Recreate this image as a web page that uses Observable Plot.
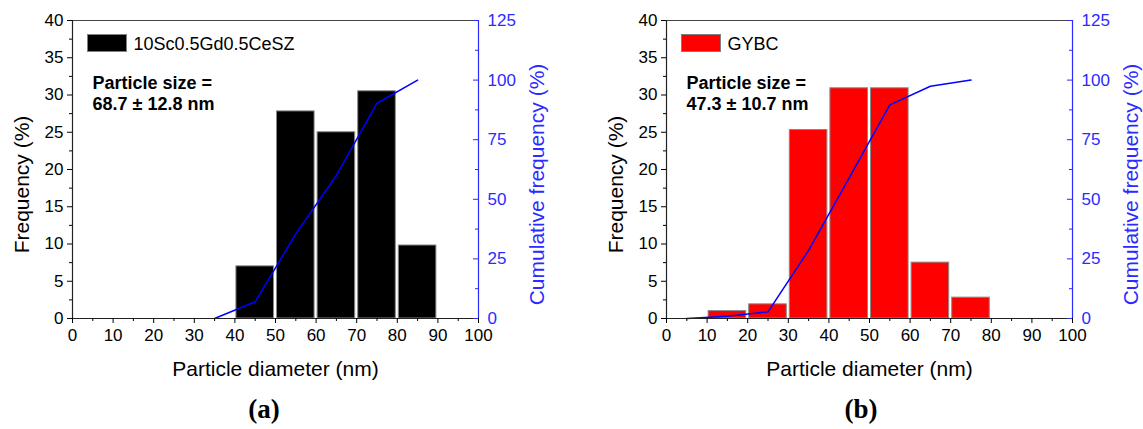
<!DOCTYPE html>
<html>
<head>
<meta charset="utf-8">
<script src="https://cdn.jsdelivr.net/npm/d3@7"></script>
<script src="https://cdn.jsdelivr.net/npm/@observablehq/plot@0.6"></script>
<style>
  html, body { margin: 0; padding: 0; background: #fff; }
  #wrap { position: relative; width: 1143px; height: 429px; overflow: hidden; background: #fff; }
  .panel { position: absolute; top: 0; }
  .swatch { position: absolute; box-sizing: border-box; border: 1px solid #808080; }
  .cap { position: absolute; width: 80px; margin-left: -40px; text-align: center;
         font-family: "Liberation Serif", "Times New Roman", serif; font-weight: bold; font-size: 27px; }
</style>
</head>
<body>
<div id="wrap"></div>
<script>
// ---------- data ----------
const xTicks = [0, 10, 20, 30, 40, 50, 60, 70, 80, 90, 100];
const freqTicks = [0, 5, 10, 15, 20, 25, 30, 35, 40];
const cumTicks = [0, 25, 50, 75, 100, 125];

// Panel (a): 10Sc0.5Gd0.5CeSZ
const labelA = "10Sc0.5Gd0.5CeSZ";
const sizeA = ["Particle size =", "68.7 ± 12.8 nm"];
const binStartA = [40, 50, 60, 70, 80];
const freqA = [7.0, 27.8, 25.0, 30.5, 9.8];
const cumXA = [35, 45, 55, 65, 75, 85];
const cumA = [0, 7.0, 35.5, 60.0, 90.3, 100];

// Panel (b): GYBC
const labelB = "GYBC";
const sizeB = ["Particle size =", "47.3 ± 10.7 nm"];
const binStartB = [10, 20, 30, 40, 50, 60, 70];
const freqB = [1.0, 1.9, 25.3, 30.9, 30.9, 7.5, 2.8];
const cumXB = [5, 15, 25, 35, 45, 55, 65, 75];
const cumB = [0, 0.9, 2.8, 28.6, 59.0, 89.6, 97.4, 100];

const binWidth = 10;
const FONT = "'Liberation Sans', Arial, Helvetica, sans-serif";
const BLUE = "#0000ff";
const AXIS_BLUE = "#2b2bff";

function makePanel(o) {
  const k = 40 / 125; // cumulative (%) -> frequency axis units
  const plotW = o.width - 72 - o.marginRight;
  const bars = o.binStart.map((s, i) => ({x1: s, x2: s + binWidth, f: o.freq[i]}));
  const pts = o.cumX.map((x, i) => ({x, c: o.cum[i]}));
  return Plot.plot({
    width: o.width,
    height: 380,
    marginLeft: 72,
    marginRight: o.marginRight,
    marginTop: 20,
    marginBottom: 62,
    style: {fontFamily: FONT, fontSize: "17px", color: "#000", background: "transparent", overflow: "visible"},
    x: {domain: [0, 100]},
    y: {domain: [0, 40]},
    marks: [
      Plot.rectY(bars, {x1: "x1", x2: "x2", y: "f", fill: o.fill, stroke: "#8a8a8a", strokeWidth: 1, insetLeft: 1.5, insetRight: 1.5}),
      Plot.line(pts, {x: "x", y: d => d.c * k, stroke: BLUE, strokeWidth: 1.5}),
      // frame lines
      Plot.ruleY([0], {stroke: "#222", strokeWidth: 1.2}),
      Plot.ruleY([40], {stroke: "#444", strokeWidth: 1.2}),
      Plot.ruleX([0], {stroke: "#222", strokeWidth: 1.2}),
      Plot.ruleX([100], {stroke: AXIS_BLUE, strokeWidth: 1.2}),
      // bottom axis
      Plot.axisX({ticks: xTicks, tickSize: 5, tickPadding: 5, label: null, fontSize: 17}),
      Plot.axisX({ticks: d3.range(5, 100, 10), tickSize: 3, tickFormat: () => "", label: null}),
      // left axis
      Plot.axisY({ticks: freqTicks, tickSize: 5, tickPadding: 4, label: null, fontSize: 17}),
      Plot.axisY({ticks: d3.range(2.5, 40, 5), tickSize: 3, tickFormat: () => "", label: null}),
      // right (cumulative) axis, ticks pointing inward
      Plot.axisY({anchor: "right", ticks: cumTicks.map(c => c * k), tickFormat: d => String(Math.round(d / k)),
                  tickSize: 0, tickPadding: 9, color: AXIS_BLUE, label: null, fontSize: 17}),
      Plot.tickY(cumTicks.map(c => c * k), {y: d => d, stroke: AXIS_BLUE, insetLeft: plotW - 5}),
      Plot.tickY(d3.range(12.5, 125, 25).map(c => c * k), {y: d => d, stroke: AXIS_BLUE, insetLeft: plotW - 3}),
      // axis titles
      Plot.text(["Particle diameter (nm)"], {frameAnchor: "bottom", dy: 51, fontSize: 21, lineAnchor: "middle", textAnchor: "middle"}),
      Plot.text(["Frequency (%)"], {frameAnchor: "left", dx: -50, dy: 15, rotate: -90, fontSize: 21, lineAnchor: "middle", textAnchor: "middle"}),
      Plot.text(["Cumulative frequency (%)"], {frameAnchor: "right", dx: 59, dy: 15, rotate: -90, fontSize: 21, lineAnchor: "middle", textAnchor: "middle", fill: AXIS_BLUE}),
      // legend text and annotation
      Plot.text([o.label], {frameAnchor: "top-left", dx: 61, dy: 29.5, fontSize: 18, lineAnchor: "bottom", textAnchor: "start"}),
      Plot.text([o.size[0]], {frameAnchor: "top-left", dx: 20, dy: 68.5, fontSize: 18, fontWeight: "bold", lineAnchor: "bottom", textAnchor: "start"}),
      Plot.text([o.size[1]], {frameAnchor: "top-left", dx: 20, dy: 89.5, fontSize: 18, fontWeight: "bold", lineAnchor: "bottom", textAnchor: "start"})
    ]
  });
}

const wrap = document.getElementById("wrap");

function addPanel(o, left, capX, capText) {
  const div = document.createElement("div");
  div.className = "panel";
  div.style.left = left + "px";
  div.appendChild(makePanel(o));
  wrap.appendChild(div);
  const sw = document.createElement("div");
  sw.className = "swatch";
  sw.style.left = (left + 72 + 14.5) + "px";
  sw.style.top = "34px";
  sw.style.width = "40px";
  sw.style.height = "18px";
  sw.style.background = o.fill;
  wrap.appendChild(sw);
  const cap = document.createElement("div");
  cap.className = "cap";
  cap.style.left = capX + "px";
  cap.style.top = "394px";
  cap.textContent = capText;
  wrap.appendChild(cap);
}

addPanel({width: 560, marginRight: 82, binStart: binStartA, freq: freqA, cumX: cumXA, cum: cumA,
          fill: "#000000", label: labelA, size: sizeA}, 0, 264, "(a)");
addPanel({width: 549, marginRight: 71, binStart: binStartB, freq: freqB, cumX: cumXB, cum: cumB,
          fill: "#ff0000", label: labelB, size: sizeB}, 594, 861, "(b)");
</script>
</body>
</html>
